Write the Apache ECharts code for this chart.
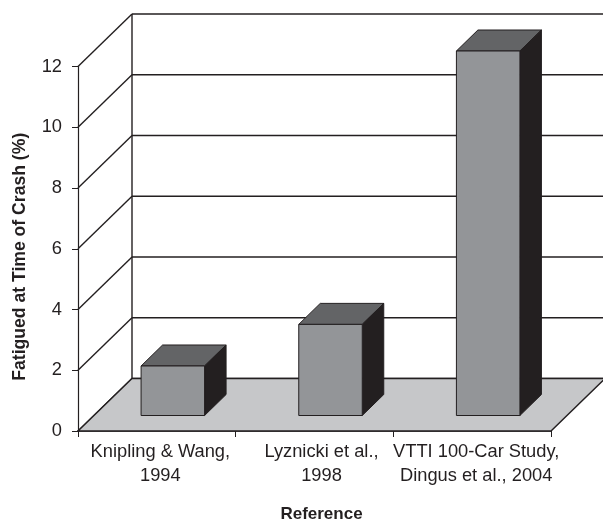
<!DOCTYPE html>
<html>
<head>
<meta charset="utf-8">
<style>html,body{margin:0;padding:0;background:#fff}#c{width:603px;height:521px}</style>
<script src="https://cdn.jsdelivr.net/npm/echarts@6/dist/echarts.min.js"></script>
</head>
<body>
<div id="c"></div>
<script>
var categories = ['Knipling & Wang,\n1994', 'Lyznicki et al.,\n1998', 'VTTI 100-Car Study,\nDingus et al., 2004'];
var labelPadLeft = [7, 14, 8];
var values = [1.63, 3.0, 12.0];
var yTicks = [0, 2, 4, 6, 8, 10, 12];

var INK = '#231f20', FLOOR = '#c6c7c9', FRONT = '#939598', TOP = '#636466', SIDE = '#231f20';
var WALL_DX = 54, WALL_DY = -52.5;
var BAR_DX = 21.5, BAR_DY = -21, BAR_W = 63.5, BAR_SHIFT_X = 16, BAR_SHIFT_Y = -15.5;

var chart = echarts.init(document.getElementById('c'), null, {renderer: 'canvas'});

function wallItem(params, api) {
  var cs = params.coordSys;
  var y = api.coord([0, api.value(0)])[1];
  var x0 = cs.x, x1 = cs.x + cs.width;
  var lineStyle = {stroke: INK, lineWidth: 1.4, fill: null};
  var children = [
    {type: 'line', shape: {x1: x0, y1: y, x2: x0 + WALL_DX, y2: y + WALL_DY}, style: lineStyle},
    {type: 'line', shape: {x1: x0 + WALL_DX, y1: y + WALL_DY, x2: x1 + WALL_DX, y2: y + WALL_DY}, style: lineStyle}
  ];
  if (params.dataIndex === 0) {
    children.push({type: 'line', shape: {x1: x0 + WALL_DX, y1: cs.y + WALL_DY, x2: x0 + WALL_DX, y2: cs.y + cs.height + WALL_DY}, style: lineStyle});
  }
  return {type: 'group', children: children};
}

function floorItem(params) {
  var cs = params.coordSys;
  var b = cs.y + cs.height, l = cs.x, r = cs.x + cs.width;
  return {
    type: 'polygon',
    shape: {points: [[l, b], [l + WALL_DX, b + WALL_DY], [r + WALL_DX, b + WALL_DY], [r, b]]},
    style: {fill: FLOOR, stroke: INK, lineWidth: 1.4}
  };
}

function barItem(params, api) {
  var top = api.coord([api.value(0), api.value(1)]);
  var base = api.coord([api.value(0), 0]);
  var l = top[0] + BAR_SHIFT_X - BAR_W / 2, r = l + BAR_W;
  var t = top[1] + BAR_SHIFT_Y, b = base[1] + BAR_SHIFT_Y;
  var s = {stroke: INK, lineWidth: 1, lineJoin: 'miter'};
  return {type: 'group', children: [
    {type: 'polygon', shape: {points: [[l, t], [r, t], [r + BAR_DX, t + BAR_DY], [l + BAR_DX, t + BAR_DY]]},
     style: Object.assign({fill: TOP}, s)},
    {type: 'polygon', shape: {points: [[r, t], [r + BAR_DX, t + BAR_DY], [r + BAR_DX, b + BAR_DY], [r, b]]},
     style: Object.assign({fill: SIDE}, s)},
    {type: 'rect', shape: {x: l, y: t, width: BAR_W, height: b - t},
     style: Object.assign({fill: FRONT}, s)}
  ]};
}

chart.setOption({
  animation: false,
  backgroundColor: '#fff',
  grid: {left: 78, top: 66.5, width: 473, height: 364.5, containLabel: false, outerBoundsMode: 'none'},
  xAxis: {
    type: 'category',
    data: categories.map(function (c, i) {
      return {value: c, textStyle: {padding: [0, 0, 0, labelPadLeft[i]]}};
    }),
    axisLine: {lineStyle: {color: INK, width: 1.5}},
    axisTick: {show: true, alignWithLabel: false, length: 6, lineStyle: {color: INK, width: 1}},
    axisLabel: {color: INK, fontFamily: 'Liberation Sans', fontSize: 18.3, margin: 9, lineHeight: 24, interval: 0},
    name: 'Reference',
    nameLocation: 'middle',
    nameGap: 75,
    nameTextStyle: {color: INK, fontFamily: 'Liberation Sans', fontWeight: 'bold', fontSize: 17, padding: [0, 0, 0, 14]}
  },
  yAxis: {
    type: 'value', min: 0, max: 12, interval: 2,
    splitLine: {show: false},
    axisLine: {show: true, lineStyle: {color: INK, width: 1.2}},
    axisTick: {show: true, length: 6, lineStyle: {color: INK, width: 1}},
    axisLabel: {color: INK, fontFamily: 'Liberation Sans', fontSize: 18.3, margin: 16, padding: [7, 0, 0, 0]},
    name: 'Fatigued at Time of Crash (%)',
    nameLocation: 'middle',
    nameGap: 49,
    nameRotate: 90,
    nameTextStyle: {color: INK, fontFamily: 'Liberation Sans', fontWeight: 'bold', fontSize: 17.6, padding: [0, 16, 0, 0]}
  },
  series: [
    {type: 'custom', coordinateSystem: 'cartesian2d', renderItem: wallItem, data: yTicks.map(function (t) { return [t]; }), encode: {y: 0}, silent: true, z: 1, clip: false},
    {type: 'custom', coordinateSystem: 'cartesian2d', renderItem: floorItem, data: [[0, 0]], silent: true, z: 2, clip: false},
    {type: 'custom', coordinateSystem: 'cartesian2d', renderItem: barItem, data: values.map(function (v, i) { return [i, v]; }), encode: {x: 0, y: 1}, z: 3, clip: false}
  ]
});
</script>
</body>
</html>
